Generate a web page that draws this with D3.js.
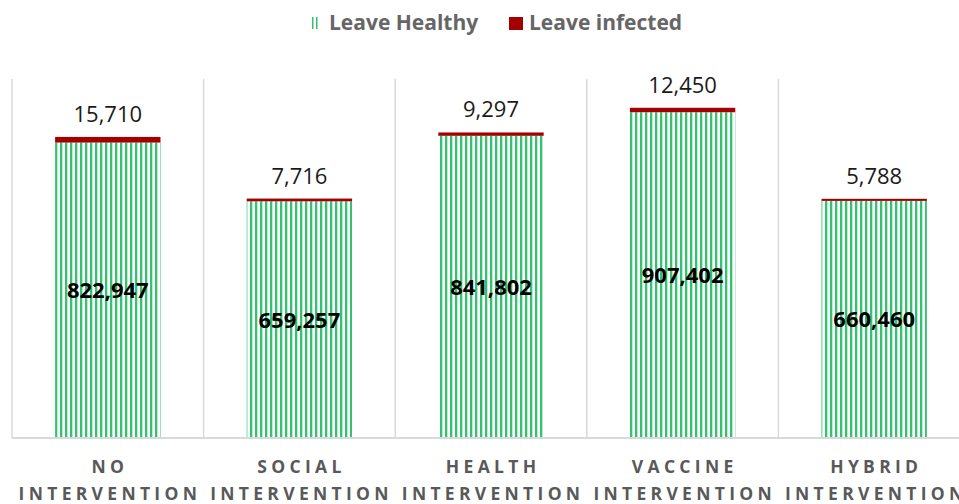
<!DOCTYPE html>
<html><head><meta charset="utf-8">
<script src="https://cdn.jsdelivr.net/npm/d3@7"></script>
<style>body{margin:0;background:#fff;}svg{display:block;}</style>
</head><body>
<svg id="chart" width="959" height="504"></svg>
<script>
const categories = [["NO","INTERVENTION"],["SOCIAL","INTERVENTION"],["HEALTH","INTERVENTION"],["VACCINE","INTERVENTION"],["HYBRID","INTERVENTION"]];
const healthy = [822947, 659257, 841802, 907402, 660460];
const infected = [15710, 7716, 9297, 12450, 5788];
const seriesNames = ["Leave Healthy","Leave infected"];
const yMax = 1000000;

(function(){
const svg = d3.select("#chart");
const pLeft = 12, pRight = 970, pTop = 79, pBottom = 438;
const fmt = d3.format(",");
const font = "'Open Sans', sans-serif";

const x = d3.scaleBand().domain(d3.range(categories.length)).range([pLeft, pRight]).paddingInner(0).paddingOuter(0);
const barW = x.bandwidth() * 0.55;
const y = d3.scaleLinear().domain([0, yMax]).range([pBottom, pTop]);

const defs = svg.append("defs");
const pat = defs.append("pattern").attr("id","stripes").attr("patternUnits","userSpaceOnUse")
  .attr("width",5).attr("height",10).attr("x",0).attr("y",0);
pat.append("rect").attr("x",0).attr("y",0).attr("width",2).attr("height",10).attr("fill","#33c26f");
pat.append("rect").attr("x",2).attr("y",0).attr("width",0.6).attr("height",10).attr("fill","#8fe0b0");

const seps = d3.range(categories.length + 1).map(i => pLeft + i * x.step());
svg.append("g").selectAll("line").data(seps).join("line")
  .attr("x1", d => d).attr("x2", d => d).attr("y1", pTop).attr("y2", pBottom)
  .attr("stroke", "#d9d9d9").attr("stroke-width", 1.5);

svg.append("g").selectAll("rect").data(healthy).join("rect")
  .attr("x", (d,i) => x(i) + (x.bandwidth()-barW)/2)
  .attr("y", d => y(d))
  .attr("width", barW)
  .attr("height", d => pBottom - y(d))
  .attr("fill", "url(#stripes)");

svg.append("g").selectAll("rect").data(infected).join("rect")
  .attr("x", (d,i) => x(i) + (x.bandwidth()-barW)/2)
  .attr("y", (d,i) => y(healthy[i] + d))
  .attr("width", barW)
  .attr("height", (d,i) => y(healthy[i]) - y(healthy[i] + d))
  .attr("fill", "#a50000");

svg.append("line").attr("x1", pLeft).attr("x2", pRight).attr("y1", pBottom).attr("y2", pBottom)
  .attr("stroke", "#d9d9d9").attr("stroke-width", 2);

svg.append("g").selectAll("text").data(infected).join("text")
  .attr("x", (d,i) => x(i) + x.bandwidth()/2)
  .attr("y", (d,i) => y(healthy[i] + d) - 15)
  .attr("text-anchor","middle").attr("font-family", font).attr("font-size", 22).attr("fill","#1a1a1a")
  .text(d => fmt(d));

svg.append("g").selectAll("text").data(healthy).join("text")
  .attr("x", (d,i) => x(i) + x.bandwidth()/2)
  .attr("y", d => (y(d) + pBottom)/2 + 8)
  .attr("text-anchor","middle").attr("font-family", font).attr("font-weight","bold").attr("font-size", 22).attr("fill","#000")
  .text(d => fmt(d));

const cl = svg.append("g").selectAll("text").data(categories).join("text")
  .attr("text-anchor","middle").attr("font-family", font).attr("font-weight","bold")
  .attr("font-size", 17.5).attr("fill","#595959").attr("letter-spacing", 4.3);
cl.each(function(d,i){
  const t = d3.select(this);
  d.forEach((line,j) => {
    t.append("tspan").attr("x", x(i) + x.bandwidth()/2 + 2.1).attr("y", 473 + j*27).text(line);
  });
});

const lg = svg.append("g").attr("font-family", font).attr("font-weight","bold").attr("font-size", 21).attr("fill","#666666");
lg.append("rect").attr("x",312).attr("y",17).attr("width",1.5).attr("height",12).attr("fill","#33c26f");
lg.append("rect").attr("x",316).attr("y",17).attr("width",1.5).attr("height",12).attr("fill","#33c26f");
lg.append("text").attr("x",329).attr("y",30).text(seriesNames[0]);
lg.append("rect").attr("x",509).attr("y",17).attr("width",14).attr("height",13).attr("fill","#a50000");
lg.append("text").attr("x",529).attr("y",30).text(seriesNames[1]);
})();
</script>
</body></html>
